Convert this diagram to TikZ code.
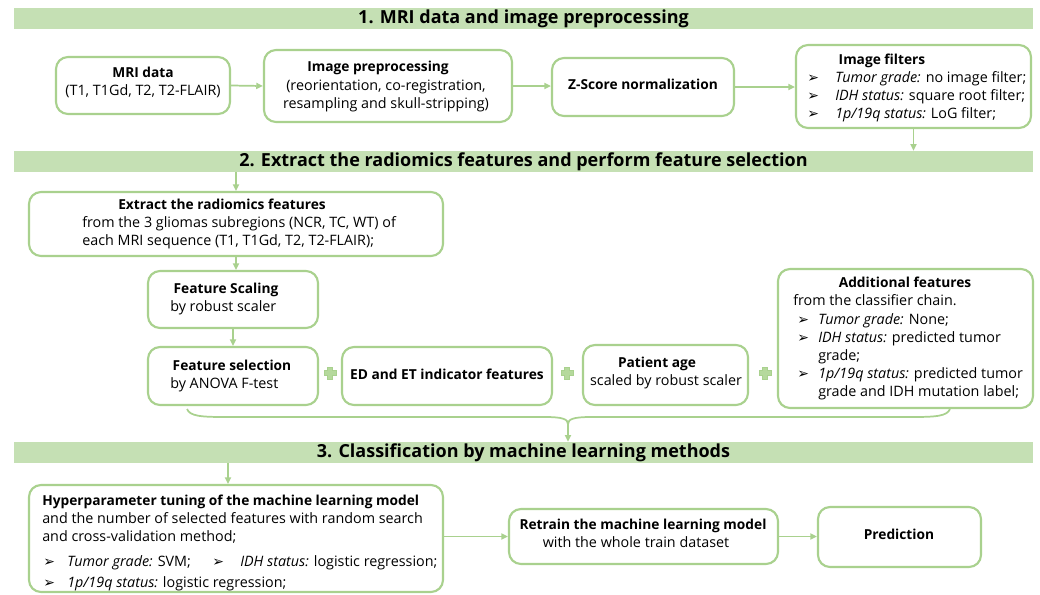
\documentclass[tikz,border=0pt]{standalone}
\usepackage{fontspec}
\setmainfont{Open Sans}
\newfontfamily\symf{DejaVu Sans}
\usetikzlibrary{arrows.meta,calc}
\definecolor{gline}{HTML}{A9D18E}
\definecolor{gband}{HTML}{C5E0B4}
\definecolor{gplus}{HTML}{B5D99C}
\newcommand{\bul}[1]{\makebox[#1][l]{\symf\fontsize{10.5}{10.5}\selectfont ➢}}
\newcommand{\mkbox}[5]{\node[box, minimum width={(#4-#2)*0.75pt}, minimum height={(#5-#3)*0.75pt}] (#1) at ({(#2+#4)/2},{(#3+#5)/2}) {};}
\newcommand{\mkband}[4]{\node[band, minimum width={(1033-14)*0.75pt}, minimum height={(#3-#2)*0.75pt}] (#1) at (523.5,{(#2+#3)/2}) {#4};}
\newcommand{\plusmark}[2]{\filldraw[draw=gline, fill=gplus, line width=0.5pt] (#1-2.3,#2-6) -- (#1+2.3,#2-6) -- (#1+2.3,#2-2.3) -- (#1+6,#2-2.3) -- (#1+6,#2+2.3) -- (#1+2.3,#2+2.3) -- (#1+2.3,#2+6) -- (#1-2.3,#2+6) -- (#1-2.3,#2+2.3) -- (#1-6,#2+2.3) -- (#1-6,#2-2.3) -- (#1-2.3,#2-2.3) -- cycle;}
\tikzset{
  box/.style={draw=gline, line width=1.6pt, rounded corners=9pt, fill=white, inner sep=0pt},
  band/.style={fill=gband, inner sep=0pt, font=\fontsize{13.5}{13.5}\selectfont\bfseries},
  arr/.style={draw=gline, line width=1.3pt, -{Triangle[length=5pt,width=4.5pt]}},
  lin/.style={draw=gline, line width=1.3pt},
  ttl/.style={inner sep=0pt, anchor=mid, font=\fontsize{10.3}{13.5}\selectfont\bfseries},
  txt/.style={inner sep=0pt, anchor=mid west, font=\fontsize{10.75}{13.5}\selectfont},
  ctxt/.style={inner sep=0pt, anchor=mid, font=\fontsize{10.75}{13.5}\selectfont},
}
\begin{document}
\begin{tikzpicture}[x=0.75pt, y=-0.75pt]
\useasboundingbox (0,0) rectangle (1040,594);
\fill[white] (0,0) rectangle (1040,594);
% banners
\mkband{ban1}{8}{29}{1. MRI data and image preprocessing}
\mkband{ban2}{151}{172}{2. Extract the radiomics features and perform feature selection}
\mkband{ban3}{442}{463}{3. Classification by machine learning methods}
% section 1 boxes
\mkbox{mri}{56}{57}{230}{114}
\mkbox{pre}{264}{50}{512}{122}
\mkbox{zs}{552}{58}{734}{116}
\mkbox{filt}{796}{45}{1031}{128}
\node[ttl] (mriT) at (143,74) {MRI data};
\node[ctxt] (mriS) at (143,92) {(T1, T1Gd, T2, T2-FLAIR)};
\node[ttl] (preT) at (378,68) {Image preprocessing};
\node[ctxt] (preS1) at (386,87) {(reorientation, co-registration,};
\node[ctxt] (preS2) at (386,105) {resampling and skull-stripping)};
\node[ttl] (zsT) at (643,86) {Z-Score normalization};
\node[ttl] (filtT) at (882,61) {Image filters};
\node[txt] (f1) at (807,79) {\bul{21pt}\textit{Tumor grade:} no image filter;};
\node[txt] (f2) at (807,97) {\bul{21pt}\textit{IDH status:} square root filter;};
\node[txt] (f3) at (807,115) {\bul{21pt}\textit{1p/19q status:} LoG filter;};
\draw[arr] (mri.east) -- (pre.west);
\draw[arr] (pre.east) -- (zs.west |- pre.east);
\draw[arr] (zs.east) -- (filt.west |- zs.east);
\draw[arr] (filt.south) -- (filt.south |- ban2.north);
% section 2 boxes
\mkbox{ext}{29}{192}{443}{256}
\mkbox{scal}{148}{271}{318}{328}
\mkbox{sel}{148}{347}{318}{405}
\mkbox{ed}{342}{347}{552}{405}
\mkbox{age}{583}{345}{748}{405}
\mkbox{add}{778}{269}{1033}{408}
\node[ttl] (extT) at (222,206) {Extract the radiomics features};
\node[txt] (ext1) at (82,224) {from the 3 gliomas subregions (NCR, TC, WT) of};
\node[txt] (ext2) at (82,242) {each MRI sequence (T1, T1Gd, T2, T2-FLAIR);};
\node[ttl] (scalT) at (226,290) {Feature Scaling};
\node[txt] (scal1) at (170,308) {by robust scaler};
\node[ttl] (selT) at (232,367) {Feature selection};
\node[txt] (sel1) at (170,385) {by ANOVA F-test};
\node[ttl] (edT) at (447,376) {ED and ET indicator features};
\node[ttl] (ageT) at (657,364) {Patient age};
\node[ctxt] (age1) at (666,382) {scaled by robust scaler};
\node[ttl] (addT) at (905,284) {Additional features};
\node[txt] (add1) at (793,302) {from the classifier chain.};
\node[txt] (add2) at (797,321) {\bul{15.75pt}\textit{Tumor grade:} None;};
\node[txt] (add3) at (797,339) {\bul{15.75pt}\textit{IDH status:} predicted tumor};
\node[txt] (add4) at (818,357) {grade;};
\node[txt] (add5) at (797,375) {\bul{15.75pt}\textit{1p/19q status:} predicted tumor};
\node[txt] (add6) at (818,393) {grade and IDH mutation label;};
\plusmark{330}{373}
\plusmark{567}{373}
\plusmark{765}{373}
\draw[arr] (ban2.south -| ext.north) -- (ext.north);
\draw[arr] (ext.south) -- (ext.south |- scal.north);
\draw[arr] (scal.south) -- (sel.north);
% brace
\coordinate (bl) at (187,409);
\coordinate (br) at (950,409);
\coordinate (bc) at (568,424);
\draw[lin] (bl) .. controls (190,416) and (200,417) .. (225,417) -- (545,417) .. controls (562,417) and (568,419) .. (bc);
\draw[lin] (br) .. controls (947,416) and (937,417) .. (912,417) -- (591,417) .. controls (574,417) and (568,419) .. (bc);
\draw[arr] (bc) -- (bc |- ban3.north);
% section 3
\mkbox{hyp}{29}{485}{443}{592}
\mkbox{ret}{509}{509}{778}{564}
\mkbox{pred}{818}{507}{981}{567}
\node[txt, font=\fontsize{10.3}{13.5}\selectfont\bfseries] (hypT) at (42,502) {Hyperparameter tuning of the machine learning model};
\node[txt] (hyp1) at (42,520) {and the number of selected features with random search};
\node[txt] (hyp2) at (42,538) {and cross-validation method;};
\node[txt] (hyp3) at (43,563) {\bul{18pt}\textit{Tumor grade:} SVM;};
\node[txt] (hyp4) at (212,563) {\bul{21pt}\textit{IDH status:} logistic regression;};
\node[txt] (hyp5) at (43,584) {\bul{18pt}\textit{1p/19q status:} logistic regression;};
\node[ttl] (retT) at (643,526) {Retrain the machine learning model};
\node[ctxt] (ret1) at (636,544) {with the whole train dataset};
\node[ttl] (predT) at (899,536) {Prediction};
\coordinate (b3) at (228,463);
\draw[arr] (b3) -- (b3 |- hyp.north);
\draw[arr] (hyp.east |- ret.west) -- (ret.west);
\draw[arr] (ret.east) -- (pred.west |- ret.east);
\end{tikzpicture}
\end{document}
